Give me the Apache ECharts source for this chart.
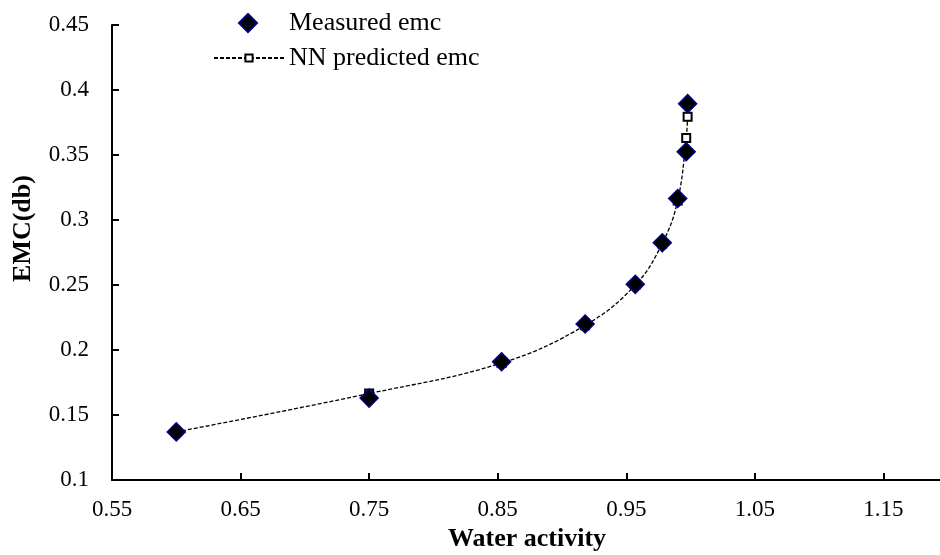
<!DOCTYPE html>
<html>
<head>
<meta charset="utf-8">
<script src="https://cdn.jsdelivr.net/npm/echarts@6/dist/echarts.min.js"></script>
<style>
  html, body { margin: 0; padding: 0; background: #fff; }
  #chart { width: 940px; height: 555px; }
</style>
</head>
<body>
<div id="chart"></div>
<script>
// measured points (water activity, emc dry basis)
const measuredAw = [0.6, 0.75, 0.853, 0.918, 0.957, 0.978, 0.99, 0.9966, 0.9977];
const measuredEmc = [0.137, 0.163, 0.191, 0.22, 0.2505, 0.2825, 0.3165, 0.3525, 0.3895];

// NN predictions at the same water activities
const predictedAw = [0.6, 0.75, 0.853, 0.918, 0.957, 0.978, 0.99, 0.9966, 0.9977];
const predictedEmc = [0.137, 0.1665, 0.19, 0.219, 0.25, 0.282, 0.315, 0.363, 0.3795];

const xTicks = [0.55, 0.65, 0.75, 0.85, 0.95, 1.05, 1.15, 1.25];
const yTicks = [0.1, 0.15, 0.2, 0.25, 0.3, 0.35, 0.4, 0.45];

const pairs = (xs, ys) => xs.map((x, i) => [x, ys[i]]);
const fmt = (v) => String(parseFloat(v.toFixed(2)));
const serif = "'Liberation Serif', 'Times New Roman', serif";

const chart = echarts.init(document.getElementById("chart"));

chart.setOption({
  animation: false,
  backgroundColor: "#fff",
  textStyle: { fontFamily: serif, color: "#000" },
  // plot area runs past the right edge of the picture (1.25 is cut off)
  grid: { left: 112, top: 25, width: 900, height: 455, containLabel: false, outerBoundsMode: "none" },
  legend: [
    {
      data: ["Measured emc"],
      left: 233,
      top: 5,
      itemWidth: 18,
      itemHeight: 18,
      textStyle: { fontFamily: serif, fontSize: 26, color: "#000", padding: [0, 0, 0, 27] },
    },
    {
      data: ["NN predicted emc"],
      left: 208,
      top: 40,
      itemWidth: 70,
      itemHeight: 9,
      textStyle: { fontFamily: serif, fontSize: 26, color: "#000" },
    },
  ],
  xAxis: {
    type: "value",
    min: xTicks[0],
    max: xTicks[xTicks.length - 1],
    interval: 0.1,
    name: "Water activity",
    nameLocation: "middle",
    nameGap: 41,
    nameTextStyle: {
      fontFamily: serif, fontSize: 26, fontWeight: "bold", color: "#000",
      padding: [0, 70, 0, 0],
    },
    axisLine: { show: true, lineStyle: { color: "#000", width: 2 } },
    axisTick: { show: true, inside: true, length: 7, lineStyle: { color: "#000", width: 2 } },
    axisLabel: { fontFamily: serif, fontSize: 23, color: "#000", margin: 18, formatter: fmt },
    splitLine: { show: false },
  },
  yAxis: {
    type: "value",
    min: yTicks[0],
    max: yTicks[yTicks.length - 1],
    interval: 0.05,
    name: "EMC(db)",
    nameLocation: "middle",
    nameRotate: 90,
    nameGap: 76,
    nameTextStyle: {
      fontFamily: serif, fontSize: 26, fontWeight: "bold", color: "#000",
      padding: [0, 0, 0, 48],
    },
    axisLine: { show: true, lineStyle: { color: "#000", width: 2 } },
    axisTick: { show: true, inside: true, length: 7, lineStyle: { color: "#000", width: 2 } },
    axisLabel: { fontFamily: serif, fontSize: 23, color: "#000", margin: 23, formatter: fmt },
    splitLine: { show: false },
  },
  series: [
    {
      name: "NN predicted emc",
      type: "line",
      smooth: 0.4,
      data: pairs(predictedAw, predictedEmc),
      symbol: "rect",
      symbolSize: 8,
      itemStyle: { color: "#fff", borderColor: "#000", borderWidth: 2 },
      lineStyle: { color: "#000", width: 1.3, type: [4, 2] },
      z: 2,
    },
    {
      name: "Measured emc",
      type: "scatter",
      data: pairs(measuredAw, measuredEmc),
      symbol: "diamond",
      symbolSize: 18,
      itemStyle: { color: "#000", borderColor: "#000080", borderWidth: 1.5, opacity: 1 },
      z: 3,
    },
  ],
});
</script>
</body>
</html>
